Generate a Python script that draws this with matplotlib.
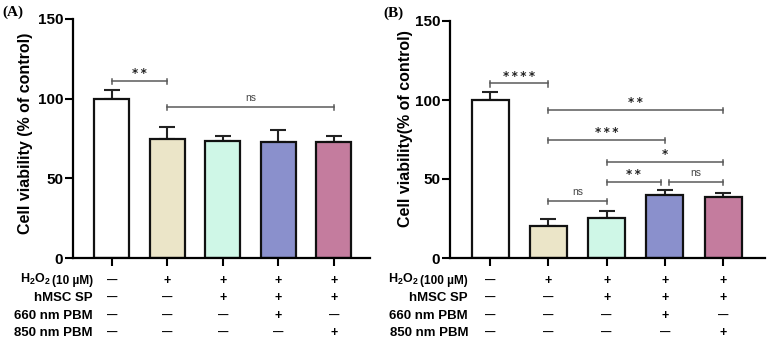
import numpy as np
import matplotlib
matplotlib.use("Agg")
from matplotlib import pyplot as plt
from matplotlib import transforms

plt.rcParams["font.family"] = ["Liberation Sans", "DejaVu Sans"]
plt.rcParams["font.weight"] = "bold"
plt.rcParams["mathtext.fontset"] = "custom"
plt.rcParams["mathtext.rm"] = "Liberation Sans:bold"
plt.rcParams["mathtext.bf"] = "Liberation Sans:bold"

# degerler (% of control)
renkler = ["#ffffff", "#ebe5c8", "#cff7e7", "#8a90cc", "#c47c9e"]

a_deger = [100, 75, 73.5, 73, 73]
a_hata = [5.5, 7, 3, 7.5, 3.5]
b_deger = [100, 20, 25.5, 40, 38.5]
b_hata = [5, 4.5, 4.5, 3, 2.5]

# (sol, sag, y, etiket)
a_parantez = [(0, 1, 111, "**"), (1, 4, 95, "ns")]
b_parantez = [(0, 1, 110.5, "****"), (1, 4, 93.5, "**"), (1, 3, 75, "***"),
              (2, 4, 61, "*"), (2, 2.93, 48, "**"), (3.07, 4, 48, "ns"),
              (1, 2, 36, "ns")]

satir_etiket = ["hMSC SP", "660 nm PBM", "850 nm PBM"]
a_doz = "(10 \u00b5M)"
b_doz = "(100 \u00b5M)"
tablo = [["\u2014", "+", "+", "+", "+"],
         ["\u2014", "\u2014", "+", "+", "+"],
         ["\u2014", "\u2014", "\u2014", "+", "\u2014"],
         ["\u2014", "\u2014", "\u2014", "\u2014", "+"]]

W, H = 767, 342
fig = plt.figure(figsize=(W / 100, H / 100), dpi=100)


def panel(rect, xlim, genislik, deger, hata, parantez, ylabel, etiket_yer,
          harf, doz, etiket_x):
    ax = fig.add_axes(rect)
    x = np.arange(len(deger))
    ax.bar(x, deger, width=genislik, color=renkler, edgecolor="#111111",
           linewidth=1.6, zorder=2)
    ax.errorbar(x, deger, yerr=[np.zeros(len(hata)), hata], fmt="none",
                ecolor="#222222", elinewidth=1.5, capsize=6, capthick=1.5, zorder=1)
    ax.set_xlim(*xlim)
    ax.set_ylim(0, 150)
    ax.set_yticks([0, 50, 100, 150])
    ax.set_xticks(x)
    ax.set_xticklabels([])
    for s in ["top", "right"]:
        ax.spines[s].set_visible(False)
    for s in ["left", "bottom"]:
        ax.spines[s].set_linewidth(1.6)
    ax.tick_params(axis="both", width=1.5, length=5.5, pad=1.5, labelsize=11)
    ax.set_ylabel(ylabel, fontsize=11.5, fontweight="bold")
    ax.yaxis.set_label_coords((etiket_yer[0] - rect[0] * W) / (rect[2] * W),
                              (258 - etiket_yer[1]) / (rect[3] * H))

    cubuk = 3.2 * 150 / (rect[3] * H)
    for sol, sag, y, yazi in parantez:
        ax.plot([sol, sag], [y, y], color="#5a5a5a", lw=1.1, clip_on=False)
        for xx in (sol, sag):
            ax.plot([xx, xx], [y - cubuk, y + cubuk * 0.6], color="#5a5a5a",
                    lw=1.1, clip_on=False)
        if yazi == "ns":
            ax.text((sol + sag) / 2, y + 2.5, yazi, ha="center", va="bottom",
                    fontsize=7.5, fontweight="normal", color="#444444")
        else:
            ax.text((sol + sag) / 2, y + 0.5, "\u2009".join(yazi), ha="center",
                    va="bottom", fontsize=8.5, color="#222222",
                    family=["DejaVu Sans"])

    fig.text(harf[0] / W, 1 - harf[1] / H, harf[2],
             family=["Liberation Serif"], fontsize=11, fontweight="bold",
             va="center", ha="left")

    # tablo
    tr = transforms.blended_transform_factory(ax.transData, fig.transFigure)
    satir_y = [281, 298, 316, 333]
    for i, sy in enumerate(satir_y):
        yy = 1 - sy / H
        for j in range(len(deger)):
            ax.text(j, yy, tablo[i][j], transform=tr, ha="center", va="center",
                    fontsize=9 if tablo[i][j] == "+" else 7.5, clip_on=False)
    ex = etiket_x / W
    for i, et in enumerate(satir_etiket):
        fig.text(ex, 1 - satir_y[i + 1] / H, et, ha="right", va="center", fontsize=9.5)
    t2 = fig.text(ex, 1 - satir_y[0] / H, doz, ha="right", va="center", fontsize=8.5)
    fig.canvas.draw()
    bb = t2.get_window_extent()
    fig.text((bb.x0 - 1.5) / W, 1 - satir_y[0] / H + 0.004, r"$\mathbf{H_2O_2}$",
             ha="right", va="center", fontsize=9)
    return ax


panel([73 / W, 1 - 258 / H, 297 / W, 239 / H], (-0.70, 4.65), 0.63,
      a_deger, a_hata, a_parantez, "Cell viability (% of control)", (33, 133),
      (2, 12, "(A)"), a_doz, 93)
panel([450 / W, 1 - 258 / H, 315 / W, 237 / H], (-0.69, 4.72), 0.635,
      b_deger, b_hata, b_parantez, "Cell viability(% of control)", (413, 129),
      (383, 13, "(B)"), b_doz, 468)

fig.savefig("out.png", dpi=100)
